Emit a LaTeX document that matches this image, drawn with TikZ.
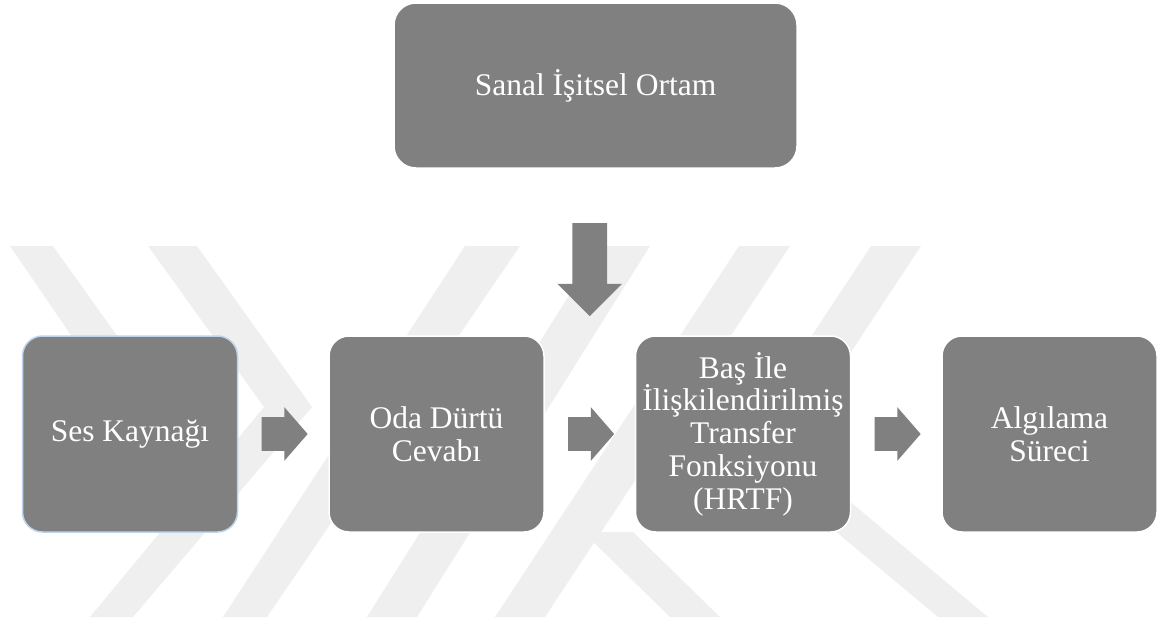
\documentclass[tikz,border=0pt]{standalone}
\usepackage{fontspec}
\setmainfont{Liberation Serif}
\usepackage{xcolor}
\usepackage{tikz}
\usetikzlibrary{positioning}
\usetikzlibrary{shapes.arrows}
\usetikzlibrary{calc}

\definecolor{boxgray}{RGB}{128,128,128}
\definecolor{markgray}{RGB}{239,239,239}
\definecolor{selblue}{RGB}{190,212,236}

\begin{document}
\begin{tikzpicture}[x=0.5pt,y=-0.5pt,
    box/.style={fill=boxgray,draw=white,line width=0.75pt,rounded corners=10pt,
      minimum width=107.5pt,minimum height=98pt,inner sep=2pt,
      text=white,align=center,font=\fontsize{15.75}{16.4}\selectfont},
    rightarrow/.style={single arrow,fill=boxgray,inner sep=0pt,inner ysep=8.25pt,
      minimum height=23pt,single arrow head extend=5pt,single arrow tip angle=98,
      anchor=tail},
    downarrow/.style={single arrow,fill=boxgray,inner sep=0pt,inner xsep=8.5pt,
      minimum height=46.5pt,single arrow head extend=7.5pt,single arrow tip angle=90,
      shape border rotate=270,anchor=tail},
    node distance=45pt]
    \useasboundingbox (0,0) rectangle (1158,621);
    %
    % faint background marks
    \begin{scope}[fill=markgray]
      \fill (10,246) -- (53,246) -- (168,407) -- (120,407) -- cycle;
      \fill (90,617) -- (264,407) -- (148,246) -- (197,246) -- (312,407) -- (133,617) -- cycle;
      \fill (465,246) -- (520,246) -- (267,617) -- (223,617) -- cycle;
      \fill (600,246) -- (650,246) -- (417,617) -- (367,617) -- cycle;
      \fill (739,246) -- (790,246) -- (545,617) -- (495,617) -- cycle;
      \fill (871,246) -- (921,246) -- (787,449) -- (988,617) -- (938,617) -- (737,449) -- cycle;
      \fill (583,532) -- (633,532) -- (720,617) -- (670,617) -- cycle;
    \end{scope}
    %
    \node[box,minimum width=201.5pt,minimum height=82.5pt,rounded corners=11pt]
      (ortam) at (595.5,85.5) {Sanal İşitsel Ortam};
    \node[box,draw=selblue] (ses) at (130,434) {Ses Kaynağı};
    \node[box,right=of ses] (oda) {Oda Dürtü\\Cevabı};
    \node[box,right=of oda] (bas) {Baş İle\\İlişkilendirilmiş\\Transfer\\Fonksiyonu\\(HRTF)};
    \node[box,right=of bas] (alg) {Algılama\\Süreci};
    %
    \node[rightarrow] (ok1) at ([xshift=11.5pt]ses.east) {};
    \node[rightarrow] (ok2) at ([xshift=11.5pt]oda.east) {};
    \node[rightarrow] (ok3) at ([xshift=11.5pt]bas.east) {};
    \coordinate (giris) at ($(oda.east)!0.5!(bas.west)$);
    \node[downarrow] (ok0) at ($(ortam.south -| giris)+(0,54)$) {};
  \end{tikzpicture}
\end{document}
